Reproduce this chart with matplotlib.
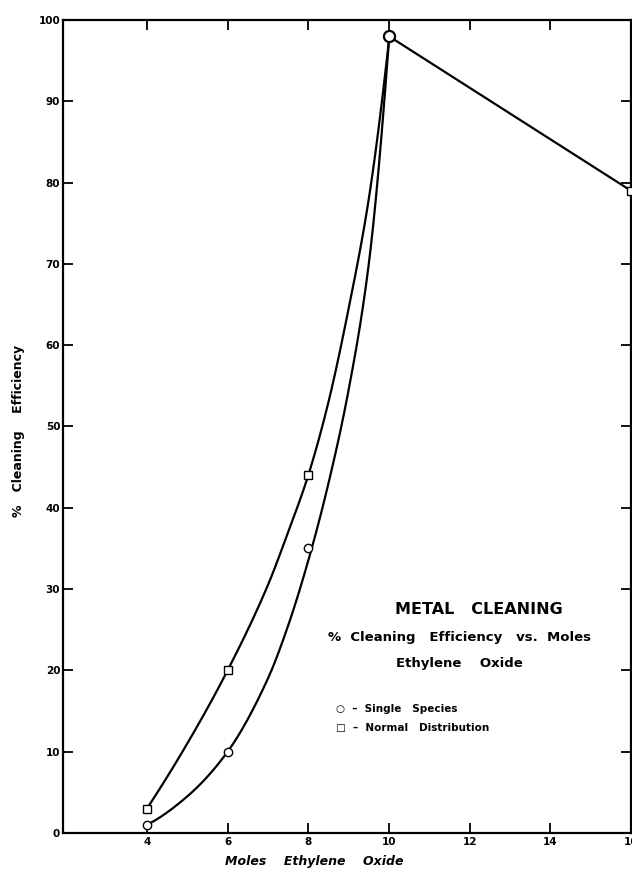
import numpy as np
import matplotlib
matplotlib.use("Agg")
import matplotlib.pyplot as plt

# Data points (markers)
moles = [4, 6, 8, 10]
single_species = [1, 10, 35, 98]
normal_dist = [3, 20, 44, 98]
moles_tail = [10, 16]
tail_values = [98, 79]

# Hand-drawn curve traces
single_curve_x = [4, 5, 6, 7, 7.5, 8, 8.5, 9, 9.5, 10]
single_curve_y = [1, 4.5, 10, 19, 25.5, 33.5, 43, 54.5, 70, 97.5]
normal_curve_x = [4, 5, 6, 7, 7.5, 8, 8.5, 9, 9.5, 10]
normal_curve_y = [3, 11, 20, 30.5, 37, 44, 53, 64.5, 78, 97.5]

x_ticks = [4, 6, 8, 10, 12, 14, 16]
y_ticks = [0, 10, 20, 30, 40, 50, 60, 70, 80, 90, 100]

plt.rcParams['font.family'] = ['DejaVu Sans']
fig = plt.figure(figsize=(6.32, 8.69), dpi=100)
ax = fig.add_axes([63/632, 36/869, (631-63)/632, (833-20)/869])


def pchip(xs, ys, n=400):
    x = np.asarray(xs, float)
    y = np.asarray(ys, float)
    h = np.diff(x)
    d = np.diff(y) / h
    m = np.zeros_like(x)
    for k in range(1, len(x) - 1):
        if d[k-1] * d[k] > 0:
            w1 = 2 * h[k] + h[k-1]
            w2 = h[k] + 2 * h[k-1]
            m[k] = (w1 + w2) / (w1 / d[k-1] + w2 / d[k])
    m[0] = ((2*h[0] + h[1]) * d[0] - h[0] * d[1]) / (h[0] + h[1])
    if np.sign(m[0]) != np.sign(d[0]):
        m[0] = 0
    m[-1] = ((2*h[-1] + h[-2]) * d[-1] - h[-1] * d[-2]) / (h[-1] + h[-2])
    if np.sign(m[-1]) != np.sign(d[-1]):
        m[-1] = 0
    xx = np.linspace(x[0], x[-1], n)
    idx = np.clip(np.searchsorted(x, xx) - 1, 0, len(x) - 2)
    t = (xx - x[idx]) / h[idx]
    h00 = 2*t**3 - 3*t**2 + 1
    h10 = t**3 - 2*t**2 + t
    h01 = -2*t**3 + 3*t**2
    h11 = t**3 - t**2
    yy = h00*y[idx] + h10*h[idx]*m[idx] + h01*y[idx+1] + h11*h[idx]*m[idx+1]
    return xx, yy


for cx, cy in ((single_curve_x, single_curve_y), (normal_curve_x, normal_curve_y)):
    xx, yy = pchip(cx, cy)
    ax.plot(xx, yy, color='black', lw=1.6, zorder=2, solid_capstyle='round')
ax.plot(moles_tail, tail_values, color='black', lw=1.6, zorder=2)

ax.plot(moles[:3], single_species[:3], 'o', ms=6, mfc='white', mec='black', mew=1.0, ls='none', zorder=3)
ax.plot(moles[:3], normal_dist[:3], 's', ms=5.5, mfc='white', mec='black', mew=1.0, ls='none', zorder=3)
ax.plot([moles_tail[0]], [tail_values[0]], 'o', ms=8, mfc='white', mec='black', mew=1.6, zorder=4)
ax.plot([moles_tail[1]], [tail_values[1]], 's', ms=5.5, mfc='white', mec='black', mew=1.0, zorder=4)

ax.set_xlim(1.92, 16)
ax.set_ylim(0, 100)
ax.set_xticks(x_ticks)
ax.set_yticks(y_ticks)
ax.set_xticklabels([str(v) for v in x_ticks], fontsize=7.5, fontweight='bold')
ax.set_yticklabels([str(v) for v in y_ticks], fontsize=7.5, fontweight='bold')
ax.tick_params(direction='in', length=7, width=1.3, top=True, right=True)
ax.tick_params(axis='x', pad=3)
ax.tick_params(axis='y', pad=2)
for s in ax.spines.values():
    s.set_linewidth(1.6)


def ftext(x, y, s, **kw):
    fig.text(x/632, 1 - y/869, s, **kw)


ftext(19, 431, '%   Cleaning    Efficiency', rotation=90, ha='center', va='center',
      fontsize=9, fontweight='bold')
ftext(314, 862, 'Moles    Ethylene    Oxide', ha='center', va='center',
      fontsize=9, fontweight='bold', style='italic')

ftext(479, 609, 'METAL   CLEANING', ha='center', va='center', fontsize=11.5, fontweight='bold')
ftext(459, 637, '%  Cleaning   Efficiency   vs.  Moles', ha='center', va='center', fontsize=9.5, fontweight='bold')
ftext(459, 664, 'Ethylene    Oxide', ha='center', va='center', fontsize=9.5, fontweight='bold')
ftext(336, 709, '○  –  Single   Species', ha='left', va='center', fontsize=7.5, fontweight='bold')
ftext(336, 728, '□  –  Normal   Distribution', ha='left', va='center', fontsize=7.5, fontweight='bold')

fig.savefig('out.png', dpi=100)
